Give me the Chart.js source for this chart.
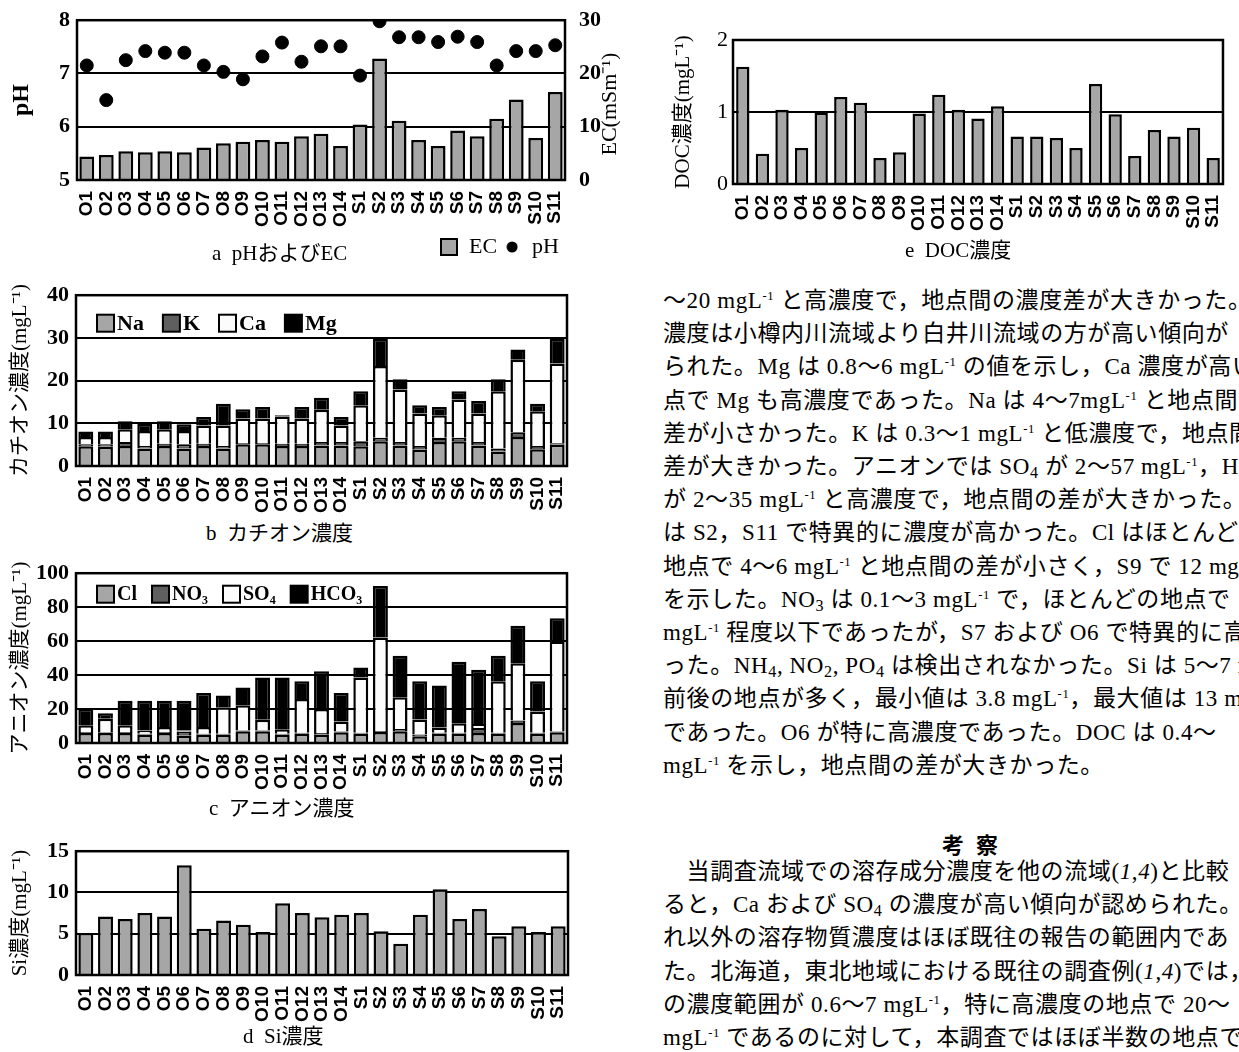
<!DOCTYPE html>
<html lang="ja">
<head>
<meta charset="utf-8">
<title>溶存成分濃度</title>
<script src="https://cdn.jsdelivr.net/npm/chart.js"></script>
<style>
  html, body { margin: 0; padding: 0; background: #fff; }
  body { position: relative; width: 1239px; height: 1052px; overflow: hidden;
         font-family: "Liberation Serif", "Noto Sans CJK JP", serif; color: #000; }
  canvas { position: absolute; }
  .cap { position: absolute; font-size: 21px; line-height: 24px; white-space: nowrap; }
  .para { position: absolute; left: 663px; font-size: 23px; line-height: 33.2px; white-space: nowrap; letter-spacing: 0.6px; }
  .head { position: absolute; left: 942px; top: 829px; font-size: 22px; line-height: 28px; font-weight: bold;
          font-family: "Noto Sans CJK JP", sans-serif; letter-spacing: 12px; }
  sup { font-size: 0.55em; vertical-align: 0.65em; line-height: 0; }
  sub { font-size: 0.7em; vertical-align: -0.25em; line-height: 0; }
</style>
</head>
<body>
<canvas id="chartA" width="620" height="272" style="left:0;top:0"></canvas>
<div class="cap" style="left:212px;top:241px">a&nbsp;&nbsp;pHおよびEC</div>

<canvas id="chartB" width="620" height="245" style="left:0;top:275px"></canvas>
<div class="cap" style="left:206px;top:521px">b&nbsp;&nbsp;カチオン濃度</div>

<canvas id="chartC" width="620" height="245" style="left:0;top:553px"></canvas>
<div class="cap" style="left:209px;top:796px">c&nbsp;&nbsp;アニオン濃度</div>

<canvas id="chartD" width="620" height="199" style="left:0;top:831px"></canvas>
<div class="cap" style="left:243px;top:1024px">d&nbsp;&nbsp;Si濃度</div>

<canvas id="chartE" width="589" height="219" style="left:650px;top:20px"></canvas>
<div class="cap" style="left:905px;top:238px">e&nbsp;&nbsp;DOC濃度</div>

<div class="para" style="top:284px">
<div>～20 mgL<sup>-1</sup> と高濃度で，地点間の濃度差が大きかった。</div>
<div>濃度は小樽内川流域より白井川流域の方が高い傾向が</div>
<div>られた。Mg は 0.8～6 mgL<sup>-1</sup> の値を示し，Ca 濃度が高い</div>
<div>点で Mg も高濃度であった。Na は 4～7mgL<sup>-1</sup> と地点間</div>
<div>差が小さかった。K は 0.3～1 mgL<sup>-1</sup> と低濃度で，地点間</div>
<div>差が大きかった。アニオンでは SO<sub>4</sub> が 2～57 mgL<sup>-1</sup>，HC</div>
<div>が 2～35 mgL<sup>-1</sup> と高濃度で，地点間の差が大きかった。</div>
<div>は S2，S11 で特異的に濃度が高かった。Cl はほとんど</div>
<div>地点で 4～6 mgL<sup>-1</sup> と地点間の差が小さく，S9 で 12 mg</div>
<div>を示した。NO<sub>3</sub> は 0.1～3 mgL<sup>-1</sup> で，ほとんどの地点で</div>
<div>mgL<sup>-1</sup> 程度以下であったが，S7 および O6 で特異的に高</div>
<div>った。NH<sub>4</sub>, NO<sub>2</sub>, PO<sub>4</sub> は検出されなかった。Si は 5～7 mg</div>
<div>前後の地点が多く，最小値は 3.8 mgL<sup>-1</sup>，最大値は 13 mg</div>
<div>であった。O6 が特に高濃度であった。DOC は 0.4～</div>
<div>mgL<sup>-1</sup> を示し，地点間の差が大きかった。</div>
</div>

<div class="head">考察</div>
<div class="para" style="top:855px">
<div>　当調査流域での溶存成分濃度を他の流域(<i>1</i>,<i>4</i>)と比較</div>
<div>ると，Ca および SO<sub>4</sub> の濃度が高い傾向が認められた。</div>
<div>れ以外の溶存物質濃度はほぼ既往の報告の範囲内であ</div>
<div>た。北海道，東北地域における既往の調査例(<i>1</i>,<i>4</i>)では，</div>
<div>の濃度範囲が 0.6～7 mgL<sup>-1</sup>，特に高濃度の地点で 20～</div>
<div>mgL<sup>-1</sup> であるのに対して，本調査ではほぼ半数の地点で</div>
</div>

<script>
const sites = ['O1', 'O2', 'O3', 'O4', 'O5', 'O6', 'O7', 'O8', 'O9', 'O10', 'O11', 'O12', 'O13', 'O14',
               'S1', 'S2', 'S3', 'S4', 'S5', 'S6', 'S7', 'S8', 'S9', 'S10', 'S11'];

// a: EC (mS/m) and pH
const ecValues = [4.4, 4.7, 5.4, 5.2, 5.4, 5.2, 6.1, 6.9, 7.2, 7.5, 7.2, 8.2, 8.7, 6.4,
                  10.4, 22.8, 11.1, 7.5, 6.4, 9.3, 8.2, 11.5, 15.1, 7.9, 16.5];
const phValues = [7.15, 6.50, 7.25, 7.42, 7.39, 7.39, 7.15, 7.03, 6.89, 7.32, 7.58, 7.22, 7.51, 7.51,
                  6.96, 7.98, 7.68, 7.68, 7.59, 7.69, 7.59, 7.15, 7.42, 7.42, 7.53];

// b: cations (mg/L)
const naValues = [4.6, 4.5, 4.7, 4.1, 4.7, 4.1, 4.7, 4.1, 5.1, 5.1, 4.7, 4.7, 4.8, 4.8,
                  4.6, 5.8, 4.8, 3.8, 5.6, 5.8, 4.8, 3.4, 6.8, 3.9, 5.0];
const kValues  = [0.5, 0.6, 0.9, 0.6, 0.5, 1.0, 0.5, 0.6, 0.3, 0.3, 0.5, 0.5, 0.8, 0.8,
                  1.2, 0.8, 0.8, 0.9, 1.0, 0.8, 0.8, 0.7, 1.1, 0.8, 0.3];
const caValues = [1.7, 1.7, 3.0, 3.5, 3.4, 3.1, 4.3, 4.8, 5.7, 5.7, 6.4, 5.9, 7.6, 3.9,
                  8.4, 16.8, 12.3, 7.6, 5.3, 9.0, 6.7, 13.4, 17.0, 8.1, 18.7];
const mgValues = [1.3, 1.3, 1.9, 1.7, 1.9, 1.6, 2.0, 5.1, 2.2, 2.7, 0.3, 2.7, 2.8, 2.0,
                  3.3, 6.4, 2.4, 1.9, 1.9, 1.9, 2.9, 2.8, 2.4, 1.8, 5.8];

// c: anions (mg/L)
const clValues   = [5.9, 5.9, 5.9, 4.9, 5.9, 4.3, 4.9, 4.9, 6.9, 6.9, 4.9, 5.5, 4.9, 6.3,
                    5.5, 6.5, 6.9, 4.0, 5.5, 5.5, 5.9, 5.5, 11.8, 5.5, 6.3];
const no3Values  = [0.6, 0.5, 0.6, 0.6, 0.6, 2.5, 0.6, 0.6, 0.4, 0.4, 0.6, 0.5, 1.0, 0.5,
                    0.5, 0.5, 1.3, 1.0, 0.5, 0.5, 3.0, 0.5, 1.4, 0.5, 0.5];
const so4Values  = [3.9, 7.9, 3.9, 1.8, 2.9, 0.5, 3.9, 15.5, 14.9, 6.4, 2.3, 19.9, 14.1, 5.9,
                    32.6, 55.2, 18.7, 8.9, 3.2, 5.6, 2.3, 30.3, 33.7, 12.6, 53.0];
const hco3Values = [9.8, 3.2, 14.5, 17.6, 15.5, 17.6, 20.0, 7.0, 10.5, 24.9, 30.8, 10.4, 22.2, 16.7,
                    5.9, 30.3, 24.5, 22.4, 24.7, 36.2, 31.9, 15.1, 22.1, 17.7, 13.7];

// d: Si (mg/L)
const siValues = [5.1, 7.1, 6.8, 7.5, 7.1, 13.3, 5.6, 6.6, 6.1, 5.2, 8.7, 7.5, 7.0, 7.3,
                  7.5, 5.3, 3.8, 7.3, 10.4, 6.8, 8.0, 4.7, 5.9, 5.2, 5.9];

// e: DOC (mg/L)
const docValues = [1.63, 0.42, 1.03, 0.50, 0.99, 1.21, 1.13, 0.36, 0.44, 0.98, 1.24, 1.03, 0.91, 1.08,
                   0.66, 0.66, 0.64, 0.50, 1.39, 0.97, 0.39, 0.75, 0.66, 0.78, 0.36];

const GRAY = '#a6a6a6';
const DARK = '#5f5f5f';
const WHITE = '#fcfcfc';
const serif = '"Liberation Serif", "Noto Sans CJK JP", serif';
const sans = '"Liberation Sans", Arial, sans-serif';

Chart.defaults.color = '#000';
Chart.defaults.font.family = serif;

// black box round the plot area
const frame = {
    id: 'frame',
    afterDatasetsDraw(chart) {
        const { ctx, chartArea: a } = chart;
        ctx.save();
        ctx.strokeStyle = '#000';
        ctx.lineWidth = 2.5;
        ctx.strokeRect(a.left, a.top, a.right - a.left, a.bottom - a.top);
        ctx.restore();
    }
};
Chart.register(frame);

// one-row legend inside the plot area (b and c)
const rowLegend = {
    id: 'rowLegend',
    afterDatasetsDraw(chart, args, opts) {
        if (!opts.show) return;
        const { ctx, chartArea: a } = chart;
        ctx.save();
        ctx.font = 'bold ' + opts.size + 'px ' + serif;
        ctx.textBaseline = 'middle';
        let x = a.left + opts.left;
        const y = a.top + opts.top;
        chart.data.datasets.forEach(ds => {
            ctx.fillStyle = ds.backgroundColor;
            ctx.fillRect(x, y - 8.5, 17, 17);
            ctx.strokeStyle = '#000';
            ctx.lineWidth = 2;
            ctx.strokeRect(x, y - 8.5, 17, 17);
            ctx.fillStyle = '#000';
            ctx.fillText(ds.label, x + 20, y + 1);
            x += 20 + ctx.measureText(ds.label).width + opts.gap;
        });
        ctx.restore();
    }
};
Chart.register(rowLegend);

function siteAxis(stacked) {
    return {
        stacked: stacked,
        grid: { display: false },
        border: { display: false },
        ticks: {
            autoSkip: false, minRotation: 90, maxRotation: 90, padding: 3,
            font: { family: sans, size: 19, weight: 'bold' }
        },
        afterFit: s => { s.height = 50; }
    };
}

function valueAxis(min, max, step, title, width, titlePad, bold) {
    return {
        min: min, max: max,
        grid: { color: '#000', lineWidth: 2, drawTicks: false },
        border: { display: false },
        ticks: { stepSize: step, padding: bold ? 7 : 5, font: { family: serif, size: 22, weight: bold ? 'bold' : 'normal' } },
        title: { display: true, text: title, padding: { top: titlePad, bottom: 0 }, font: { family: serif, size: 21 } },
        afterFit: s => { s.width = width; }
    };
}

function bars(label, data, color, pct) {
    return {
        label: label, data: data, backgroundColor: color, borderColor: '#000', borderWidth: 2.5,
        categoryPercentage: 1, barPercentage: pct || 0.76
    };
}

const base = { responsive: false, animation: false, devicePixelRatio: 1 };

// legend marks for chart a
function squareMark() {
    const c = document.createElement('canvas');
    c.width = 18; c.height = 18;
    const g = c.getContext('2d');
    g.fillStyle = GRAY; g.fillRect(1, 1, 16, 16);
    g.strokeStyle = '#000'; g.lineWidth = 2; g.strokeRect(1, 1, 16, 16);
    return c;
}
function dotMark() {
    const c = document.createElement('canvas');
    c.width = 12; c.height = 12;
    const g = c.getContext('2d');
    g.fillStyle = '#000'; g.beginPath(); g.arc(6, 6, 5.5, 0, Math.PI * 2); g.fill();
    return c;
}
const marks = { EC: squareMark(), pH: dotMark() };

// right axis title, turned the same way as the left one
const ecTitle = {
    id: 'ecTitle',
    afterDraw(chart) {
        const s = chart.scales.y1;
        const ctx = chart.ctx;
        ctx.save();
        ctx.translate(s.right - 10, (s.top + s.bottom) / 2 + 4);
        ctx.rotate(-Math.PI / 2);
        ctx.font = '22px ' + serif;
        ctx.fillStyle = '#000';
        ctx.textAlign = 'center';
        ctx.textBaseline = 'middle';
        ctx.fillText('EC(mSm⁻¹)', 0, 0);
        ctx.restore();
    }
};

const phAxis = valueAxis(5, 8, 1, 'pH', 77, 7, true);
phAxis.position = 'left';
phAxis.title.font = { family: serif, size: 24, weight: 'bold' };

new Chart(document.getElementById('chartA'), {
    type: 'bar',
    data: {
        labels: sites,
        datasets: [
            Object.assign(bars('EC', ecValues, GRAY), { yAxisID: 'y1', order: 1 }),
            { type: 'line', label: 'pH', data: phValues, yAxisID: 'y', order: 0, showLine: false,
              pointRadius: 6.5, pointBackgroundColor: '#000', pointBorderColor: '#000' }
        ]
    },
    options: Object.assign({}, base, {
        layout: { padding: { top: 20, bottom: 4, left: 0, right: 0 } },
        plugins: {
            tooltip: { enabled: false },
            legend: {
                position: 'bottom', align: 'end', fullSize: false,
                labels: {
                    usePointStyle: true, boxWidth: 18, padding: 6,
                    font: { family: serif, size: 22 },
                    generateLabels: chart => chart.data.datasets.map((ds, i) => ({
                        text: ds.label, pointStyle: marks[ds.label], fillStyle: '#000',
                        strokeStyle: '#000', lineWidth: 0, hidden: false, datasetIndex: i
                    }))
                }
            }
        },
        scales: {
            x: siteAxis(false),
            y: phAxis,
            y1: {
                position: 'right', min: 0, max: 30,
                grid: { display: false },
                border: { display: false },
                ticks: { stepSize: 10, padding: 6, font: { family: serif, size: 22, weight: 'bold' } },
                afterFit: s => { s.width = 55; }
            }
        }
    }),
    plugins: [ecTitle]
});

new Chart(document.getElementById('chartB'), {
    type: 'bar',
    data: {
        labels: sites,
        datasets: [
            bars('Na', naValues, GRAY),
            bars('K', kValues, DARK),
            bars('Ca', caValues, WHITE),
            bars('Mg', mgValues, '#000')
        ]
    },
    options: Object.assign({}, base, {
        layout: { padding: { top: 20, bottom: 4, left: 0, right: 53 } },
        plugins: {
            tooltip: { enabled: false },
            legend: { display: false },
            rowLegend: { show: true, left: 21, top: 28, gap: 19, size: 22 }
        },
        scales: {
            x: siteAxis(true),
            y: Object.assign(valueAxis(0, 40, 10, 'カチオン濃度(mgL⁻¹)', 76, 8, true), { stacked: true })
        }
    })
});

new Chart(document.getElementById('chartC'), {
    type: 'bar',
    data: {
        labels: sites,
        datasets: [
            bars('Cl', clValues, GRAY),
            bars('NO₃', no3Values, DARK),
            bars('SO₄', so4Values, WHITE),
            bars('HCO₃', hco3Values, '#000')
        ]
    },
    options: Object.assign({}, base, {
        layout: { padding: { top: 20, bottom: 5, left: 0, right: 53 } },
        plugins: {
            tooltip: { enabled: false },
            legend: { display: false },
            rowLegend: { show: true, left: 21, top: 21, gap: 15, size: 20 }
        },
        scales: {
            x: siteAxis(true),
            y: Object.assign(valueAxis(0, 100, 20, 'アニオン濃度(mgL⁻¹)', 76, 8, true), { stacked: true })
        }
    })
});

new Chart(document.getElementById('chartD'), {
    type: 'bar',
    data: { labels: sites, datasets: [bars('Si', siValues, GRAY)] },
    options: Object.assign({}, base, {
        layout: { padding: { top: 20, bottom: 5, left: 0, right: 52 } },
        plugins: { tooltip: { enabled: false }, legend: { display: false } },
        scales: {
            x: siteAxis(false),
            y: valueAxis(0, 15, 5, 'Si濃度(mgL⁻¹)', 76, 8, true)
        }
    })
});

new Chart(document.getElementById('chartE'), {
    type: 'bar',
    data: { labels: sites, datasets: [bars('DOC', docValues, GRAY, 0.68)] },
    options: Object.assign({}, base, {
        layout: { padding: { top: 20, bottom: 5, left: 0, right: 1 } },
        plugins: { tooltip: { enabled: false }, legend: { display: false } },
        scales: {
            x: siteAxis(false),
            y: valueAxis(0, 2, 1, 'DOC濃度(mgL⁻¹)', 83, 21, false)
        }
    })
});
</script>
</body>
</html>
